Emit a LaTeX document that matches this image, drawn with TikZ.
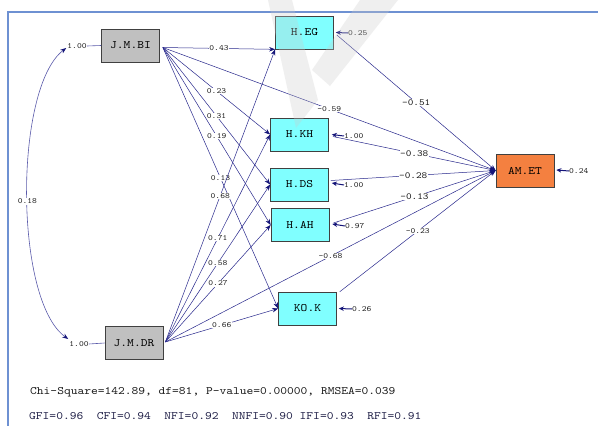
\documentclass[tikz,border=0pt]{standalone}
\usepackage{fontspec}
\setmonofont{lmmono10-regular}[Extension=.otf, FakeStretch=1.14]
\usetikzlibrary{arrows.meta,calc}
\definecolor{ln}{RGB}{40,40,140}
\definecolor{tipc}{RGB}{20,20,120}
\definecolor{crv}{RGB}{90,90,170}
\definecolor{frm}{RGB}{110,145,210}
\definecolor{cy}{RGB}{128,255,255}
\definecolor{gr}{RGB}{192,192,192}
\definecolor{org}{RGB}{244,128,64}
\definecolor{statb}{RGB}{30,30,70}
\begin{document}
\begin{tikzpicture}[x=1pt,y=-1pt,
  box/.style={draw=black!75, line width=0.7pt, minimum width=58pt, minimum height=33pt, inner sep=0pt, text=black, font=\ttfamily\fontsize{11.3}{11.3}\selectfont},
  lab/.style={fill=white, inner sep=0.6pt, text=black!90, font=\ttfamily\fontsize{8}{8}\selectfont},
  biglab/.style={lab, font=\ttfamily\fontsize{9.4}{9.4}\selectfont},
  elab/.style={inner sep=0pt, anchor=west, text=black!90, font=\ttfamily\fontsize{8}{8}\selectfont},
  conn/.style={draw=ln, line width=0.5pt, -{Stealth[length=6pt,width=4.5pt,color=tipc]}},
  errarr/.style={draw=tipc, line width=1pt, -{Stealth[length=5pt,width=4.5pt]}},
  stat/.style={anchor=west, inner sep=0pt, font=\ttfamily\fontsize{11.3}{11.3}\selectfont}
]
\useasboundingbox (0,0) rectangle (598,426);
\fill[white] (0,0) rectangle (598,426);
% frame
\draw[frm, line width=1.3pt] (598,12) -- (8,12) -- (8,426);

% boxes
\node[box, fill=gr] (jbi) at (130.5,45.5) {J.M.BI};
\node[box, fill=gr] (jdr) at (134,343) {J.M.DR};
\node[box, fill=cy] (heg) at (304.5,32.5) {H.EG};
\node[box, fill=cy] (hkh) at (299.5,134.5) {H.KH};
\node[box, fill=cy] (hds) at (299.5,184.5) {H.DS};
\node[box, fill=cy] (hah) at (300,225) {H.AH};
\node[box, fill=cy] (kok) at (307.5,308.5) {KO.K};
\node[box, fill=org] (amet) at (525,170.5) {AM.ET};

\coordinate (jbiout) at ($(jbi.east)+(3,2)$);
\coordinate (jdrout) at ($(jdr.east)+(2,-1)$);

% paths from J.M.BI
\draw[conn] (jbiout) -- node[lab]{0.43} (heg.south west);
\draw[conn] (jbiout) -- node[lab]{0.23} (hkh.west);
\draw[conn] (jbiout) -- node[lab]{0.31} (hds.west);
\draw[conn] (jbiout) -- node[lab]{0.19} (hah.west);
\draw[conn] (jbiout) -- node[lab]{0.13} (kok.west);
\draw[conn] (jbiout) -- node[lab]{-0.59} (amet.west);

% paths from J.M.DR
\draw[conn] (jdrout) -- node[lab]{0.68} (heg.south west);
\draw[conn] (jdrout) -- node[lab]{0.71} (hkh.west);
\draw[conn] (jdrout) -- node[lab]{0.58} (hds.west);
\draw[conn] (jdrout) -- node[lab]{0.27} (hah.west);
\draw[conn] (jdrout) -- node[lab]{0.66} (kok.west);
\draw[conn] (jdrout) -- node[lab]{-0.68} (amet.west);

% paths into AM.ET
\draw[conn] ($(heg.east)+(3,2.5)$) -- node[biglab]{-0.51} (amet.west);
\draw[conn] ($(hkh.east)+(4,2)$) -- node[biglab]{-0.38} (amet.west);
\draw[conn] ($(hds.east)+(2,-4)$) -- node[biglab]{-0.28} (amet.west);
\draw[conn] ($(hah.east)+(4,-2)$) -- node[biglab]{-0.13} (amet.west);
\draw[conn] ($(kok.north east)+(3,0)$) -- node[lab]{-0.23} (amet.west);

% error terms
\node[elab] (eheg) at (348,33) {0.25};
\draw[errarr] (eheg.west) -- ($(heg.east)+(2,0)$);
\node[elab] (ehkh) at (344,136) {1.00};
\draw[errarr] (ehkh.west) -- ($(hkh.east)+(3,0)$);
\node[elab] (ehds) at (344,185) {1.00};
\draw[errarr] (ehds.west) -- ($(hds.east)+(3,-1.5)$);
\node[elab] (ehah) at (345,226) {0.97};
\draw[errarr] (ehah.west) -- ($(hah.east)+(3,-1)$);
\node[elab] (ekok) at (352,309) {0.26};
\draw[errarr] (ekok.west) -- ($(kok.east)+(2,0)$);
\node[elab] (eamet) at (569,171) {0.24};
\draw[errarr] (eamet.west) -- ($(amet.east)+(2,-0.5)$);

% variances of exogenous variables
\node[elab, anchor=center] (vbi) at (77,46) {1.00};
\draw[crv, line width=0.6pt] (vbi.east) -- (jbi.west);
\node[elab, anchor=center] (vdr) at (79,344) {1.00};
\draw[crv, line width=0.6pt] (vdr.east) -- (jdr.west);
\draw[crv, line width=0.6pt, {Stealth[length=6pt,width=4.5pt,color=tipc]}-{Stealth[length=6pt,width=4.5pt,color=tipc]}]
  ($(vbi.west)+(-1,2)$) .. controls (14,88) and (14,300) .. node[lab, pos=0.52]{0.18} ($(vdr.west)+(-1,-5)$);

% fit statistics
\node[stat, text=black!90] (chi) at (30,392) {Chi-Square=142.89, df=81, P-value=0.00000, RMSEA=0.039};
\node[stat, text=statb] (fit) at (29,416) {GFI=0.96\ \ CFI=0.94\ \ NFI=0.92\ \ NNFI=0.90 IFI=0.93\ \ RFI=0.91};

% watermark
\fill[gray!40, opacity=0.3] (268,0) -- (292,0) -- (318,100) -- (296,128) -- cycle;
\fill[gray!40, opacity=0.3] (360,0) -- (398,0) -- (330,86) -- (312,70) -- cycle;
\end{tikzpicture}
\end{document}
